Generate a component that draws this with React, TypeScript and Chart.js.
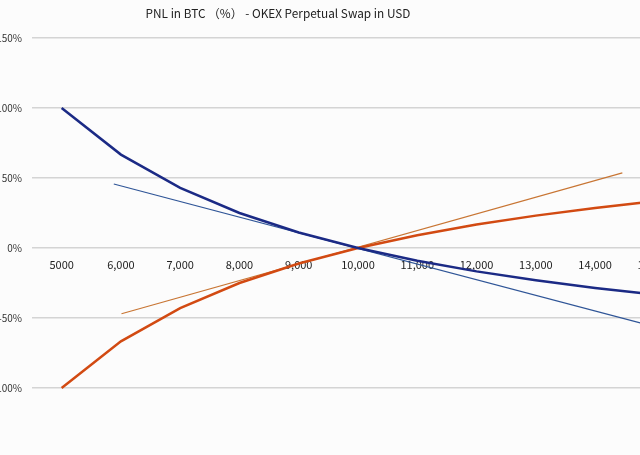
import React, { useEffect, useRef } from "react";
import { Chart, registerables } from "chart.js";

Chart.register(...registerables);

const TITLE = "PNL in BTC （%） - OKEX Perpetual Swap in USD";
const categories = [5000, 6000, 7000, 8000, 9000, 10000, 11000, 12000, 13000, 14000, 15000];
const shortPnl = [100, 66.7, 42.9, 25, 11.1, 0, -9.1, -16.7, -23.1, -28.6, -33.3];
const longPnl = [-100, -66.7, -42.9, -25, -11.1, 0, 9.1, 16.7, 23.1, 28.6, 33.3];
const shortTrendX = [5880, 15000];
const shortTrendY = [45.7, -56.2];
const longTrendX = [6010, 14460];
const longTrendY = [-47, 53.6];
const yTicks = [-150, -100, -50, 0, 50, 100, 150];
const yLabelled = [-100, -50, 0, 50, 100, 150];

const FONT = "'Noto Sans CJK SC', 'Noto Sans', sans-serif";
const fmtX = (v: number) => (v === 5000 ? "5000" : v.toLocaleString("en-US"));

export default function App() {
  const ref = useRef<HTMLCanvasElement>(null);
  useEffect(() => {
    if (!ref.current) return;
    const chart = new Chart(ref.current, {
      type: "line",
      data: {
        datasets: [
          {
            label: "short",
            data: categories.map((c, i) => ({ x: c, y: shortPnl[i] })),
            borderColor: "#1b2a85",
            borderWidth: 2.5,
            pointRadius: 0,
            tension: 0,
          },
          {
            label: "long",
            data: categories.map((c, i) => ({ x: c, y: longPnl[i] })),
            borderColor: "#d24a12",
            borderWidth: 2.5,
            pointRadius: 0,
            tension: 0,
          },
          {
            label: "shortTrend",
            data: shortTrendX.map((x, i) => ({ x, y: shortTrendY[i] })),
            borderColor: "#2f5597",
            borderWidth: 1.2,
            pointRadius: 0,
          },
          {
            label: "longTrend",
            data: longTrendX.map((x, i) => ({ x, y: longTrendY[i] })),
            borderColor: "#c87533",
            borderWidth: 1.2,
            pointRadius: 0,
          },
        ],
      },
      options: {
        animation: false,
        responsive: false,
        layout: { padding: { left: 0, right: 0, top: 0, bottom: 0 } },
        plugins: {
          legend: { display: false },
          tooltip: { enabled: false },
          title: {
            display: true,
            text: TITLE,
            color: "#222",
            font: { family: FONT, size: 11.8, weight: "normal", lineHeight: 1.2 },
            padding: { top: 6, bottom: 17.8 },
          },
        },
        scales: {
          x: {
            type: "linear",
            min: 4500,
            max: 15500,
            position: { y: 0 },
            grid: { display: false },
            border: { display: false },
            afterBuildTicks: (s: any) => {
              s.ticks = categories.map((v) => ({ value: v }));
            },
            ticks: {
              autoSkip: false,
              maxRotation: 0,
              padding: 2,
              color: "#222",
              font: { family: FONT, size: 11 },
              callback: (v: any) => fmtX(Number(v)),
            },
          },
          y: {
            min: -150,
            max: 150,
            afterFit: (s: any) => {
              s.width = 160;
            },
            afterBuildTicks: (s: any) => {
              s.ticks = yTicks.map((v) => ({ value: v }));
            },
            grid: { color: "#d4d4d4", lineWidth: 1.5, drawTicks: false },
            border: { display: false },
            ticks: {
              padding: 10,
              color: "#333",
              font: { family: FONT, size: 10 },
              callback: (v: any) => (yLabelled.includes(Number(v)) ? `${v}%` : ""),
            },
          },
        },
      },
    });
    return () => chart.destroy();
  }, []);
  return (
    <div
      style={{
        position: "fixed",
        left: 0,
        top: 0,
        width: 640,
        height: 455,
        overflow: "hidden",
        background: "#fcfcfc",
      }}
    >
      <canvas
        ref={ref}
        width={812}
        height={474}
        style={{ position: "absolute", left: -128, top: 0, width: 812, height: 474 }}
      />
    </div>
  );
}
